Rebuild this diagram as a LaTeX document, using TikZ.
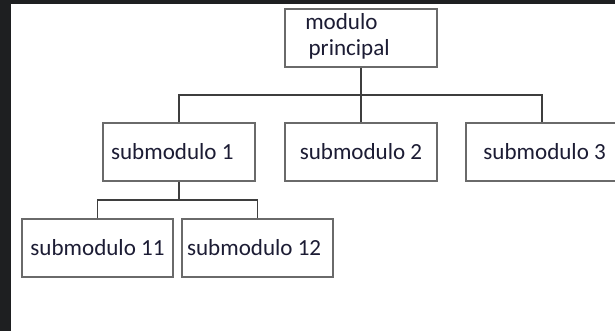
\documentclass[tikz,border=0pt]{standalone}
\usepackage{fontspec}
\setmainfont{Carlito}
\definecolor{frame}{HTML}{1E1F21}
\definecolor{boxline}{HTML}{6A6A6A}
\definecolor{wire}{HTML}{3E3E3E}
\definecolor{ink}{HTML}{1C1C34}
\begin{document}
\begin{tikzpicture}[x=0.75pt,y=-0.75pt,
  modbox/.style={draw=boxline, line width=0.9pt, fill=white, text=ink,
    minimum width=114pt, minimum height=43.5pt, inner sep=0pt,
    font=\fontsize{17.3}{19.5}\selectfont},
  wireline/.style={draw=wire, line width=1pt}]
  % canvas with the dark window edge on the top and left
  \clip (0,0) rectangle (615,331);
  \fill[frame] (0,0) rectangle (615,331);
  \fill[white] (11,4) rectangle (615,331);

  % modules
  \node[modbox] (top) at (361,38) {};
  \node[anchor=north west, inner sep=0pt, text=ink, align=left,
    font=\fontsize{17.3}{19.5}\selectfont] (toptext) at (305,13)
    {modulo\\\hspace*{2.5pt}principal};
  \node[modbox] (s1) at (179,152) {\hspace*{-10pt}submodulo 1};
  \node[modbox] (s2) at (361,152) {submodulo 2};
  \node[modbox] (s3) at (542,152) {\hspace*{4pt}submodulo 3};
  \node[modbox, minimum width=113.25pt] (s11) at (97.5,248) {submodulo 11};
  \node[modbox, minimum width=113.25pt] (s12) at (257.5,248) {\hspace*{-5pt}submodulo 12};

  % bus lines
  \coordinate (busA) at (0,95);
  \coordinate (busB) at (0,200);
  \draw[wireline] (top.south) -- (s2.north);
  \draw[wireline] (s1.north) -- (s1.north |- busA) -- (s3.north |- busA) -- (s3.north);
  \draw[wireline] (s1.south) -- (s1.south |- busB);
  \draw[wireline] (s11.north) -- (s11.north |- busB) -- (s12.north |- busB) -- (s12.north);
\end{tikzpicture}
\end{document}
